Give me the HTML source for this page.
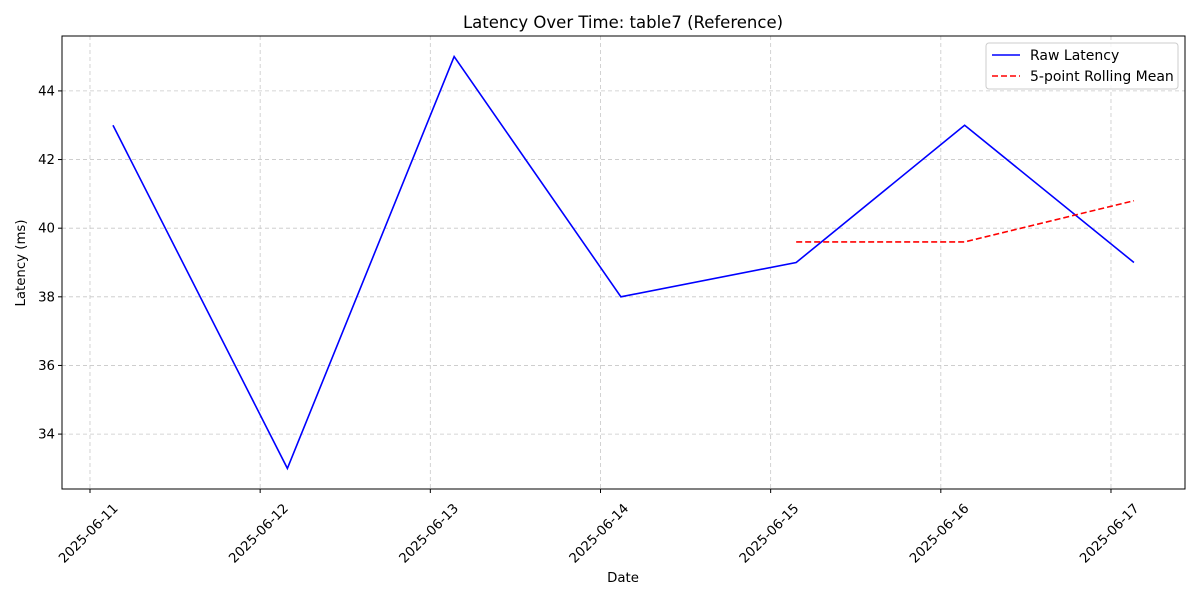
<!DOCTYPE html>
<html><head><meta charset="utf-8"><style>
body{margin:0;background:#fff}
svg{font-family:"DejaVu Sans","Liberation Sans",sans-serif}
</style></head><body>
<svg id="chart" width="1200" height="600" xmlns="http://www.w3.org/2000/svg">
<rect width="1200" height="600" fill="#fff"/>
<g id="grid"></g><g id="series"></g><g id="axes"></g>
</svg>
<script>
const dayOffsets=[0.135,1.16,2.14,3.12,4.15,5.14,6.135];
const dateLabels=["2025-06-11","2025-06-12","2025-06-13","2025-06-14","2025-06-15","2025-06-16","2025-06-17"];
const latency=[43,33,45,38,39,43,39];
const yTicks=[34,36,38,40,42,44];
const windowSize=5;
const L=62,R=1185,T=36,B=489;
const xMin=-0.1645,xMax=6.435,yMin=32.4,yMax=45.6;
const X=d=>L+(d-xMin)/(xMax-xMin)*(R-L);
const Y=v=>B-(v-yMin)/(yMax-yMin)*(B-T);
const NS="http://www.w3.org/2000/svg";
function mk(t,a,p){const e=document.createElementNS(NS,t);for(const k in a)e.setAttribute(k,a[k]);p.appendChild(e);return e;}
const grid=document.getElementById('grid'),ser=document.getElementById('series'),ax=document.getElementById('axes');
dateLabels.forEach((lab,i)=>{const x=X(i);
 const g=mk('line',{x1:x,x2:x,y1:T,y2:B,stroke:'#c8c8c8','stroke-dasharray':'4,3','stroke-width':0.8},grid);
 
 
 mk('line',{x1:x,x2:x,y1:B,y2:B+4,stroke:'#000'},ax);
 const cx=x-1,cy=B+45;
 const t=mk('text',{x:cx,y:cy,'font-size':13.3,'text-anchor':'middle','dominant-baseline':'central',transform:`rotate(-45 ${cx} ${cy})`},ax);t.textContent=lab;
 
 
});
yTicks.forEach(v=>{const y=Y(v);
 const g=mk('line',{x1:L,x2:R,y1:y,y2:y,stroke:'#c8c8c8','stroke-dasharray':'4,3','stroke-width':0.8},grid);
 
 
 mk('line',{x1:L-4,x2:L,y1:y,y2:y,stroke:'#000'},ax);
 const t=mk('text',{x:L-7,y:y+4.5,'font-size':13.3,'text-anchor':'end'},ax);t.textContent=v;
 
 
});
const raw=mk('polyline',{points:latency.map((v,i)=>X(dayOffsets[i])+','+Y(v)).join(' '),fill:'none',stroke:'#0000ff','stroke-width':1.6},ser);


const rm=[];latency.forEach((v,i)=>{if(i>=windowSize-1){let s=0;for(let j=i-windowSize+1;j<=i;j++)s+=latency[j];rm.push(X(dayOffsets[i])+','+Y(s/windowSize));}});
const rl=mk('polyline',{points:rm.join(' '),fill:'none',stroke:'#ff0000','stroke-width':1.6,'stroke-dasharray':'6,3'},ser);


const fr=mk('rect',{x:L,y:T,width:R-L,height:B-T,fill:'none',stroke:'#000','stroke-width':1},ax);


</script>
<svg style="position:absolute;left:0;top:0" width="1200" height="600" xmlns="http://www.w3.org/2000/svg" font-family="DejaVu Sans, Liberation Sans, sans-serif">
<text x="623" y="28" font-size="16.5" text-anchor="middle">Latency Over Time: table7 (Reference)</text>
<text x="623" y="582" font-size="13.3" text-anchor="middle">Date</text>
<text x="25" y="263" font-size="13.3" text-anchor="middle" transform="rotate(-90 25 263)">Latency (ms)</text>
<g>
<rect x="986" y="43" width="192" height="46" rx="3" fill="#fff" fill-opacity="0.8" stroke="#ccc"/>
<line x1="992" x2="1020" y1="55" y2="55" stroke="#0000ff" stroke-width="1.6"/>
<text x="1030" y="60" font-size="14">Raw Latency</text>
<line x1="992" x2="1020" y1="76" y2="76" stroke="#ff0000" stroke-width="1.6" stroke-dasharray="6,3"/>
<text x="1030" y="81" font-size="14">5-point Rolling Mean</text>
</g>
</svg>
</body></html>
